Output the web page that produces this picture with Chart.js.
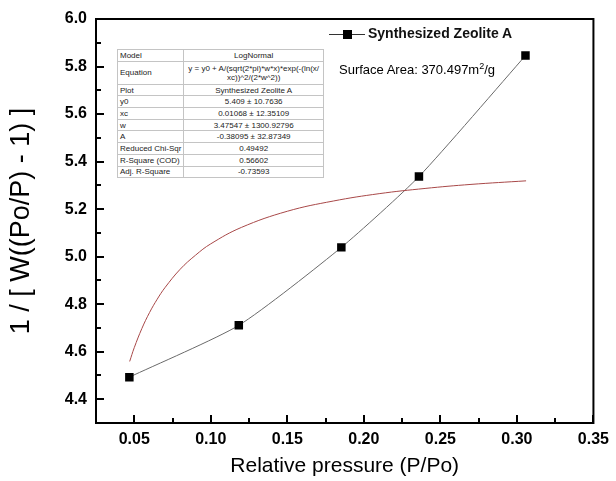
<!DOCTYPE html>
<html>
<head>
<meta charset="utf-8">
<script src="https://cdn.jsdelivr.net/npm/chart.js@4"></script>
<style>
  body { margin: 0; background: #fff; }
  #wrap { position: relative; width: 616px; height: 481px; }
  #fitTable {
    position: absolute; left: 117px; top: 49px; width: 207px;
    border-collapse: collapse; font: 8px "Liberation Sans", Arial, sans-serif; color: #222;
    border: 1px solid #8a8a8a; background: #fff;
  }
  #fitTable td { border: 1px solid #c4c4c4; padding: 0 2px; height: 10.7px; line-height: 9px; white-space: nowrap; }
  #fitTable td:first-child { width: 55px; text-align: left; }
  #fitTable td:last-child { text-align: center; }
  #legend { position: absolute; left: 329px; top: 25px; font: bold 14px "Liberation Sans", Arial, sans-serif; color: #111; }
  #legend .ln { position: absolute; left: 0; top: 9px; width: 36px; height: 1px; background: #333; }
  #legend .sq { position: absolute; left: 14px; top: 5px; width: 9px; height: 9px; background: #000; }
  #legend .tx { position: absolute; left: 39px; top: 0; white-space: nowrap; }
  #surface { position: absolute; left: 339px; top: 61px; font: 13px "Liberation Sans", Arial, sans-serif; color: #000; white-space: nowrap; }
  #surface sup { font-size: 9px; }
</style>
</head>
<body>
<div id="wrap">
  <canvas id="chart" width="616" height="481"></canvas>
  <table id="fitTable">
    <tr><td>Model</td><td>LogNormal</td></tr>
    <tr><td style="height:22px">Equation</td><td>y = y0 + A/(sqrt(2*pi)*w*x)*exp(-(ln(x/<br>xc))^2/(2*w^2))</td></tr>
    <tr><td>Plot</td><td>Synthesized Zeolite A</td></tr>
    <tr><td>y0</td><td>5.409 ± 10.7636</td></tr>
    <tr><td>xc</td><td>0.01068 ± 12.35109</td></tr>
    <tr><td>w</td><td>3.47547 ± 1300.92796</td></tr>
    <tr><td>A</td><td>-0.38095 ± 32.87349</td></tr>
    <tr><td>Reduced Chi-Sqr</td><td>0.49492</td></tr>
    <tr><td>R-Square (COD)</td><td>0.56602</td></tr>
    <tr><td>Adj. R-Square</td><td>-0.73593</td></tr>
  </table>
  <div id="legend"><div class="ln"></div><div class="sq"></div><div class="tx">Synthesized Zeolite A</div></div>
  <div id="surface">Surface Area: 370.497m<sup>2</sup>/g</div>
</div>
<script>
// measured points
const pressure = [0.0468, 0.1183, 0.1853, 0.236, 0.3056];
const bet = [4.493, 4.711, 5.039, 5.337, 5.846];

// LogNormal fit curve
const fitX = [0.047, 0.05, 0.055, 0.06, 0.065, 0.07, 0.08, 0.09, 0.10, 0.12, 0.15, 0.18, 0.21, 0.24, 0.27, 0.306];
const fitY = [4.559, 4.617, 4.698, 4.765, 4.821, 4.869, 4.947, 5.006, 5.054, 5.123, 5.191, 5.234, 5.265, 5.287, 5.304, 5.319];

const xTicks = [0.05, 0.10, 0.15, 0.20, 0.25, 0.30, 0.35];
const yTicks = [4.4, 4.6, 4.8, 5.0, 5.2, 5.4, 5.6, 5.8, 6.0];
const xMinor = [0.075, 0.125, 0.175, 0.225, 0.275, 0.325];
const yMinor = [4.5, 4.7, 4.9, 5.1, 5.3, 5.5, 5.7, 5.9];

const fontFam = '"Liberation Sans", Arial, sans-serif';

// box around the plot + inward tick marks
const framePlugin = {
  id: 'frame',
  afterDraw(chart) {
    const ctx = chart.ctx;
    const a = chart.chartArea;
    const x = chart.scales.x, y = chart.scales.y;
    ctx.save();
    ctx.fillStyle = '#000';
    xTicks.forEach(v => ctx.fillRect(Math.round(x.getPixelForValue(v)) - 1, a.bottom - 8, 2, 8));
    xMinor.forEach(v => ctx.fillRect(Math.round(x.getPixelForValue(v)) - 1, a.bottom - 5, 2, 5));
    yTicks.forEach(v => ctx.fillRect(a.left, Math.round(y.getPixelForValue(v)) - 1, 8, 2));
    yMinor.forEach(v => ctx.fillRect(a.left, Math.round(y.getPixelForValue(v)) - 1, 5, 2));
    ctx.strokeStyle = '#000';
    ctx.lineWidth = 2;
    ctx.strokeRect(a.left, a.top, a.right - a.left, a.bottom - a.top);
    ctx.restore();
  }
};

new Chart(document.getElementById('chart'), {
  type: 'line',
  data: {
    datasets: [
      {
        label: 'LogNormal fit',
        data: fitX.map((v, i) => ({x: v, y: fitY[i]})),
        borderColor: '#a84848',
        borderWidth: 1,
        pointRadius: 0,
        tension: 0.4,
        fill: false
      },
      {
        label: 'Synthesized Zeolite A',
        data: pressure.map((v, i) => ({x: v, y: bet[i]})),
        borderColor: '#6a6a6a',
        borderWidth: 1,
        tension: 0.2,
        pointStyle: 'rect',
        pointRadius: 6,
        pointBackgroundColor: '#000',
        pointBorderColor: '#000',
        pointBorderWidth: 0,
        fill: false
      }
    ]
  },
  options: {
    responsive: false,
    animation: false,
    layout: { padding: { top: 19, right: 18, left: 0, bottom: 0 } },
    plugins: { legend: { display: false }, tooltip: { enabled: false } },
    scales: {
      x: {
        type: 'linear',
        min: 0.025, max: 0.35,
        afterBuildTicks: s => { s.ticks = xTicks.map(v => ({value: v})); },
        afterFit: s => { s.height = 58; },
        grid: { display: false, drawTicks: false },
        border: { display: false },
        ticks: {
          padding: 7, color: '#000',
          font: { family: fontFam, size: 16, weight: 'bold' },
          maxRotation: 0,
          callback: v => v.toFixed(2)
        },
        title: {
          display: true, text: 'Relative pressure (P/Po)', color: '#000',
          font: { family: fontFam, size: 21 },
          padding: { top: 0, bottom: 2 }
        }
      },
      y: {
        type: 'linear',
        min: 4.3, max: 6.0,
        afterBuildTicks: s => { s.ticks = yTicks.map(v => ({value: v})); },
        afterFit: s => { s.width = 96; },
        grid: { display: false, drawTicks: false },
        border: { display: false },
        ticks: {
          padding: 9, color: '#000',
          font: { family: fontFam, size: 16, weight: 'bold' },
          callback: v => v.toFixed(1)
        },
        title: {
          display: true, text: '1 / [ W((Po/P) - 1) ]', color: '#000',
          font: { family: fontFam, size: 27 },
          padding: { top: 5, bottom: 0 }
        }
      }
    }
  },
  plugins: [framePlugin]
});
</script>
</body>
</html>
